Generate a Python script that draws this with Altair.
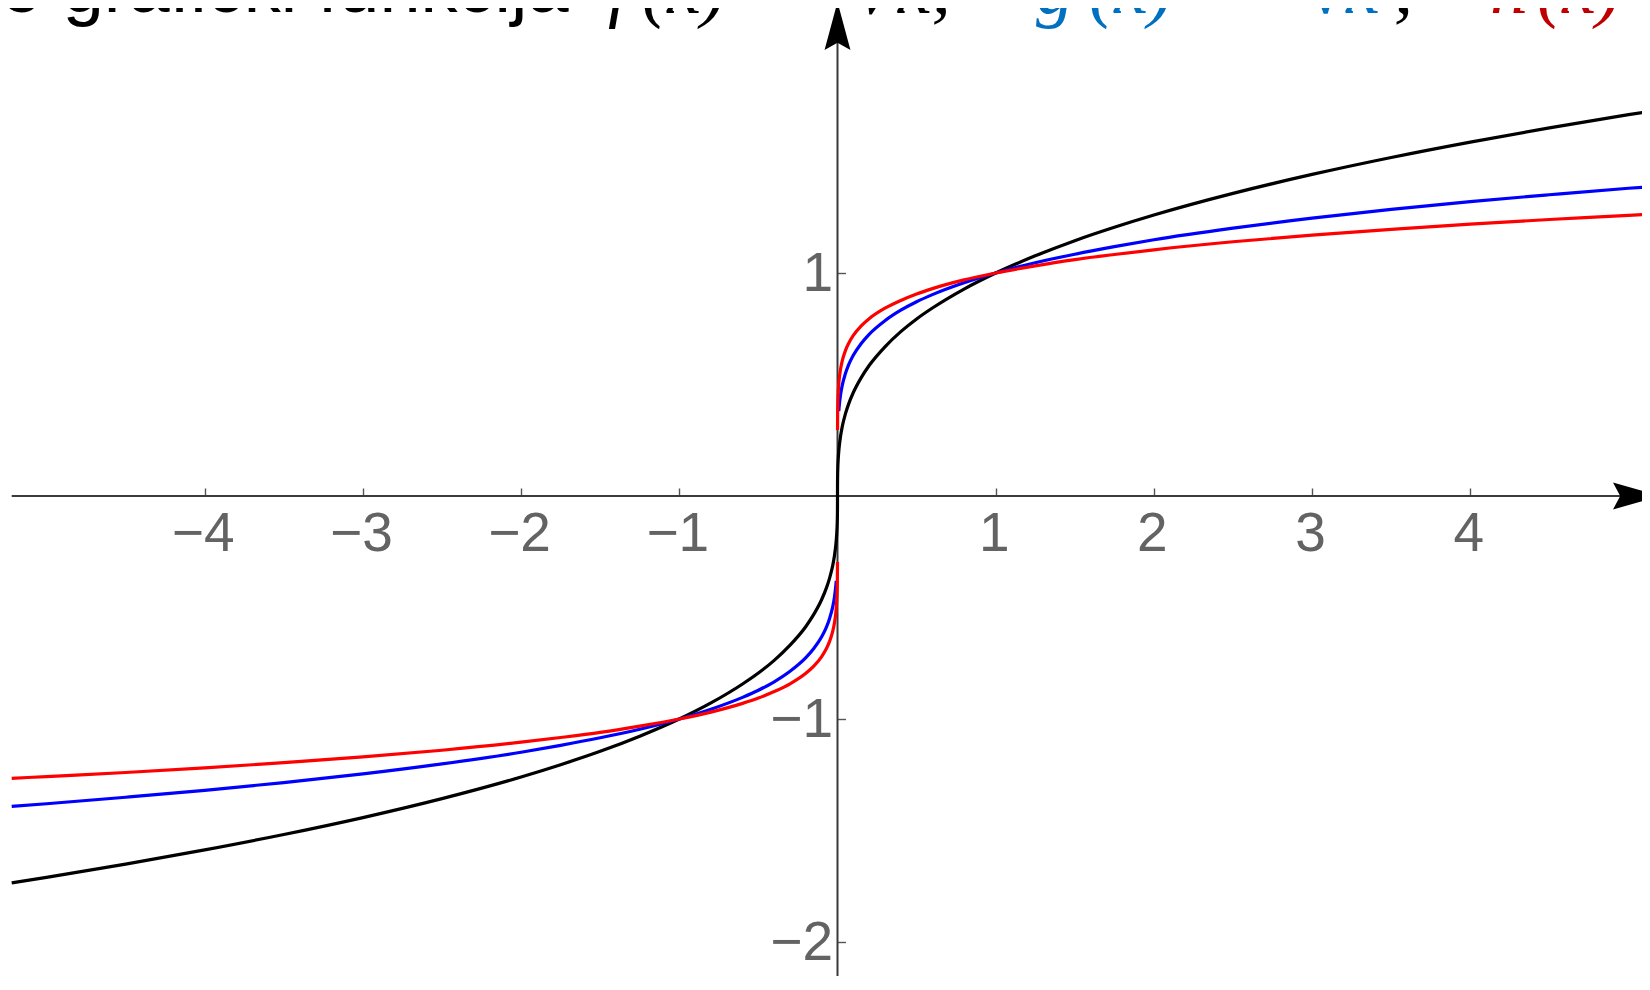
import altair as alt
import pandas as pd

# ---------------- values ----------------
# f(x): cube root (black), one continuous branch
F_X = [-5.22, -5.0, -4.5, -4.0, -3.5, -3.0, -2.5, -2.0, -1.75, -1.5, -1.25, -1.0, -0.8, -0.6, -0.5,
       -0.4, -0.3, -0.2, -0.15, -0.1, -0.07, -0.05, -0.03, -0.02, -0.01, -0.005, -0.002, -0.001,
       -0.0005, -0.0001, 0.0, 0.0001, 0.0005, 0.001, 0.002, 0.005, 0.01, 0.02, 0.03, 0.05, 0.07,
       0.1, 0.15, 0.2, 0.3, 0.4, 0.5, 0.6, 0.8, 1.0, 1.25, 1.5, 1.75, 2.0, 2.5, 3.0, 3.5, 4.0, 4.5,
       5.0, 5.2]
F_Y = [-1.735, -1.710, -1.651, -1.587, -1.518, -1.442, -1.357, -1.260, -1.205, -1.145, -1.077,
       -1.000, -0.928, -0.843, -0.794, -0.737, -0.669, -0.585, -0.531, -0.464, -0.412, -0.368,
       -0.311, -0.271, -0.215, -0.171, -0.126, -0.100, -0.079, -0.046, 0.0, 0.046, 0.079, 0.100,
       0.126, 0.171, 0.215, 0.271, 0.311, 0.368, 0.412, 0.464, 0.531, 0.585, 0.669, 0.737, 0.794,
       0.843, 0.928, 1.000, 1.077, 1.145, 1.205, 1.260, 1.357, 1.442, 1.518, 1.587, 1.651, 1.710,
       1.732]

# g(x): fifth root (blue), two branches
G_X_NEG = [-5.22, -5.0, -4.5, -4.0, -3.5, -3.0, -2.5, -2.0, -1.75, -1.5, -1.25, -1.0, -0.8, -0.6,
           -0.5, -0.4, -0.3, -0.2, -0.15, -0.1, -0.07, -0.05, -0.03, -0.02, -0.01, -0.008]
G_Y_NEG = [-1.392, -1.380, -1.351, -1.320, -1.285, -1.246, -1.201, -1.149, -1.118, -1.084, -1.046,
           -1.000, -0.956, -0.903, -0.871, -0.833, -0.786, -0.725, -0.684, -0.631, -0.588, -0.549,
           -0.496, -0.457, -0.398, -0.381]
G_X_POS = [0.008, 0.01, 0.02, 0.03, 0.05, 0.07, 0.1, 0.15, 0.2, 0.3, 0.4, 0.5, 0.6, 0.8, 1.0,
           1.25, 1.5, 1.75, 2.0, 2.5, 3.0, 3.5, 4.0, 4.5, 5.0, 5.2]
G_Y_POS = [0.381, 0.398, 0.457, 0.496, 0.549, 0.588, 0.631, 0.684, 0.725, 0.786, 0.833, 0.871,
           0.903, 0.956, 1.000, 1.046, 1.084, 1.118, 1.149, 1.201, 1.246, 1.285, 1.320, 1.351,
           1.380, 1.390]

# h(x): seventh root (red), two branches
H_X_NEG = [-5.22, -5.0, -4.5, -4.0, -3.5, -3.0, -2.5, -2.0, -1.75, -1.5, -1.25, -1.0, -0.8, -0.6,
           -0.5, -0.4, -0.3, -0.2, -0.15, -0.1, -0.07, -0.05, -0.03, -0.02, -0.01, -0.005, -0.002,
           -0.001, -0.0005, -0.0002]
H_Y_NEG = [-1.266, -1.258, -1.240, -1.219, -1.196, -1.170, -1.140, -1.104, -1.083, -1.060, -1.032,
           -1.000, -0.969, -0.930, -0.906, -0.877, -0.842, -0.795, -0.763, -0.720, -0.684, -0.652,
           -0.606, -0.572, -0.518, -0.469, -0.412, -0.373, -0.337, -0.296]
H_X_POS = [0.0002, 0.0005, 0.001, 0.002, 0.005, 0.01, 0.02, 0.03, 0.05, 0.07, 0.1, 0.15, 0.2, 0.3,
           0.4, 0.5, 0.6, 0.8, 1.0, 1.25, 1.5, 1.75, 2.0, 2.5, 3.0, 3.5, 4.0, 4.5, 5.0, 5.2]
H_Y_POS = [0.296, 0.337, 0.373, 0.412, 0.469, 0.518, 0.572, 0.606, 0.652, 0.684, 0.720, 0.763,
           0.795, 0.842, 0.877, 0.906, 0.930, 0.969, 1.000, 1.032, 1.060, 1.083, 1.104, 1.140,
           1.170, 1.196, 1.219, 1.240, 1.258, 1.266]

X_TICKS = [-4, -3, -2, -1, 1, 2, 3, 4]
Y_TICKS = [-2, -1, 1]

TITLE_BLACK = "o grafički funkcija"

# ---------------- geometry / style ----------------
W, H = 1634, 968          # svg = plot area (padding 0, autosize none)
PX0, PY0 = 829.5, 488.0   # pixel position of the origin
UX, UY = 158.2, 223.0     # pixels per unit
X_MIN, X_MAX = -PX0 / UX, (W - PX0) / UX
Y_MIN, Y_MAX = -(H - PY0) / UY, PY0 / UY
X_AXIS_START = -5.22
X_ARROW = (1629 - PX0) / UX
Y_ARROW = (PY0 - 18) / UY

SANS = "Liberation Sans"
SERIF = "Liberation Serif"
AXC = "#3a3a3a"
TICKC = "#555555"
LABC = "#636363"
BLUE_T = "#0070C0"
RED_T = "#C00000"

XS = alt.Scale(domain=[X_MIN, X_MAX], nice=False, zero=False)
YS = alt.Scale(domain=[Y_MIN, Y_MAX], nice=False, zero=False)


def frame(xs, ys, seg):
    assert len(xs) == len(ys)
    return pd.DataFrame({"x": xs, "y": ys, "seg": [seg] * len(xs)})


df_f = frame(F_X, F_Y, "f")
df_g = pd.concat([frame(G_X_NEG, G_Y_NEG, "g-"), frame(G_X_POS, G_Y_POS, "g+")])
df_h = pd.concat([frame(H_X_NEG, H_Y_NEG, "h-"), frame(H_X_POS, H_Y_POS, "h+")])
dummy = pd.DataFrame({"k": [0]})

AX_XLAB = alt.Axis(values=X_TICKS, orient="bottom", offset=PY0 - H, ticks=False, tickSize=0,
                   domain=False, grid=False, labelFont=SANS, labelFontSize=55, labelColor=LABC,
                   labelBaseline="alphabetic", labelPadding=54, labelOffset=-2, labelFlush=False,
                   labelOverlap=False, title=None)
AX_XTICK = alt.Axis(values=X_TICKS, orient="top", offset=-PY0, ticks=True, tickSize=8,
                    tickWidth=1.4, tickColor=TICKC, labels=False, domain=False, grid=False,
                    title=None)
AX_YLAB = alt.Axis(values=Y_TICKS, orient="left", offset=-PX0, ticks=False, tickSize=0,
                   domain=False, grid=False, labelFont=SANS, labelFontSize=55, labelColor=LABC,
                   labelAlign="right", labelBaseline="alphabetic", labelPadding=5,
                   labelOffset=17.5, labelFlush=False, labelOverlap=False, title=None)
AX_YTICK = alt.Axis(values=Y_TICKS, orient="right", offset=PX0 - W, ticks=True, tickSize=8,
                    tickWidth=1.4, tickColor=TICKC, labels=False, domain=False, grid=False,
                    title=None)

# axis lines
x_line = alt.Chart(dummy).mark_rule(color=AXC, strokeWidth=2).encode(
    x=alt.XDatum(X_AXIS_START, scale=XS, axis=None), x2=alt.X2Datum(X_ARROW),
    y=alt.YDatum(0, scale=YS, axis=None))
y_line = alt.Chart(dummy).mark_rule(color=AXC, strokeWidth=2).encode(
    x=alt.XDatum(0, scale=XS, axis=None),
    y=alt.YDatum(Y_MIN, scale=YS, axis=None), y2=alt.Y2Datum(Y_ARROW))

ARROW_R = "M1,0L-1,-0.56L-0.7,0L-1,0.56Z"
ARROW_U = "M0,-1L0.54,1L0,0.7L-0.54,1Z"
x_head = alt.Chart(dummy).mark_point(shape=ARROW_R, size=2304, filled=True, color="black",
                                     opacity=1, strokeWidth=0).encode(
    x=alt.XDatum(X_ARROW, scale=XS, axis=None), y=alt.YDatum(0, scale=YS, axis=None))
y_head = alt.Chart(dummy).mark_point(shape=ARROW_U, size=2304, filled=True, color="black",
                                     opacity=1, strokeWidth=0).encode(
    x=alt.XDatum(0, scale=XS, axis=None), y=alt.YDatum(Y_ARROW, scale=YS, axis=None))

line_kw = dict(strokeWidth=3.2, interpolate="monotone", clip=True)
line_f = alt.Chart(df_f).mark_line(color="#000000", **line_kw).encode(
    x=alt.X("x:Q", scale=XS, axis=AX_XLAB), y=alt.Y("y:Q", scale=YS, axis=AX_YLAB))
line_g = alt.Chart(df_g).mark_line(color="#0000ff", **line_kw).encode(
    x=alt.X("x:Q", scale=XS, axis=AX_XTICK), y=alt.Y("y:Q", scale=YS, axis=AX_YTICK),
    detail="seg:N")
line_h = alt.Chart(df_h).mark_line(color="#ff0000", **line_kw).encode(
    x=alt.X("x:Q", scale=XS, axis=None), y=alt.Y("y:Q", scale=YS, axis=None),
    detail="seg:N")


def txt(s, px, color="black", font=SERIF, size=76, style="italic", align="left", py=4.5):
    return alt.Chart(dummy).mark_text(text=s, font=font, fontSize=size, fontStyle=style,
                                      color=color, align=align, baseline="alphabetic").encode(
        x=alt.value(px), y=alt.value(py))


texts = [
    txt(TITLE_BLACK, -7, font=SANS, size=74, style="normal", py=4),
    txt("f", 600),
    txt("(x)", 634),
    txt("=", 789, style="normal", align="center"),
    txt("∛x,", 842),
    txt("g", 1028, color=BLUE_T),
    txt("(x)", 1081, color=BLUE_T),
    txt("=", 1238, color=BLUE_T, style="normal", align="center"),
    txt("⁵√x", 1270, color=BLUE_T),
    txt(",", 1386),
    txt("h", 1482, color=RED_T),
    txt("(x)", 1529, color=RED_T),
    txt("= ⁷√x", 1660, color=RED_T),
]

chart = alt.layer(x_line, y_line, x_head, y_head, line_f, line_g, line_h, *texts).resolve_axis(
    x="independent", y="independent"
).properties(
    width=W, height=H, padding=0, background="white",
    autosize=alt.AutoSizeParams(type="none"),
).configure_view(stroke=None)

chart.save("out.html", embed_options={"renderer": "svg", "actions": False})
